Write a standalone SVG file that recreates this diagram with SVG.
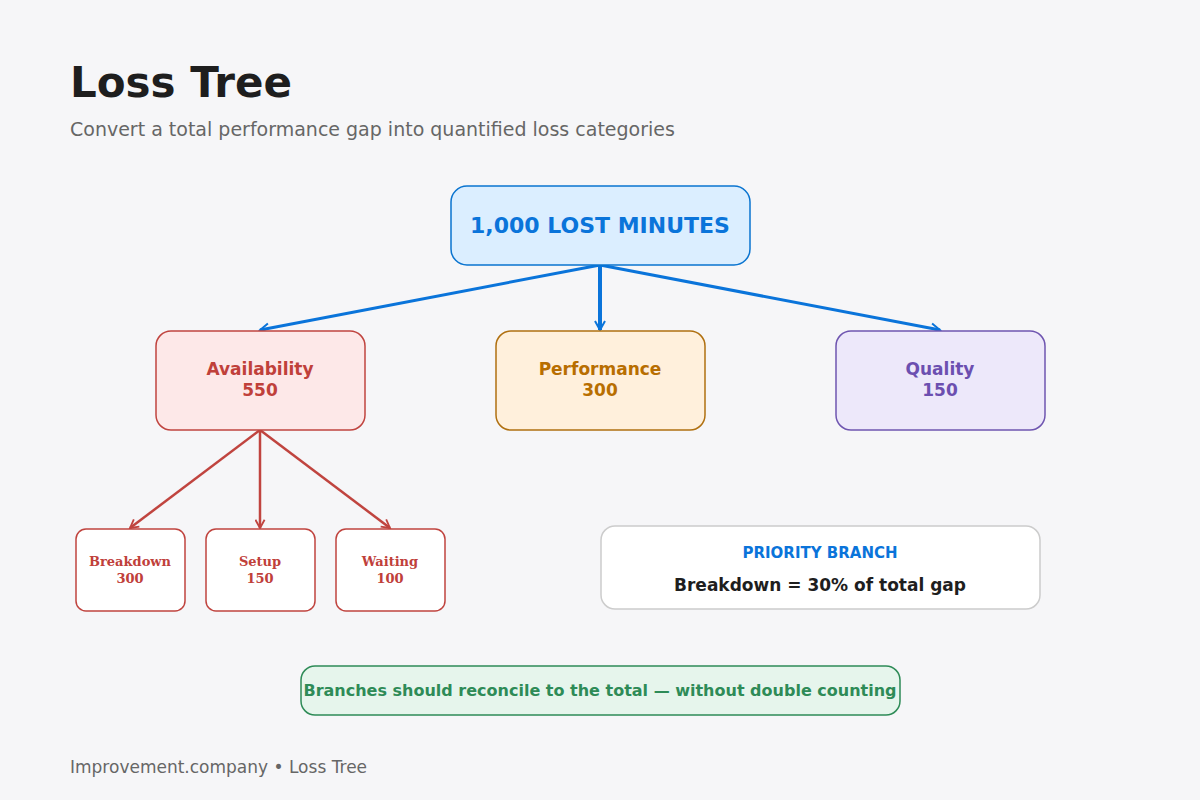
<svg xmlns="http://www.w3.org/2000/svg" width="1200" height="800" viewBox="0 0 1200 800">
<defs>
<style>
text{font-family:"DejaVu Sans",sans-serif}
.b{font-weight:bold;text-anchor:middle}
.s{font-family:"DejaVu Serif",serif;font-weight:bold;text-anchor:middle;font-size:13px;fill:#c0403a}
.sub{fill:#fff;stroke:#c0443f;stroke-width:1.5}
</style>
<marker id="ab" viewBox="0 0 12 12" refX="10" refY="6" markerWidth="12" markerHeight="12" markerUnits="userSpaceOnUse" orient="auto"><path d="M1,1 L10,6 L1,11" fill="none" stroke="#0a74da" stroke-width="2"/></marker>
<marker id="ar" viewBox="0 0 12 12" refX="10" refY="6" markerWidth="11" markerHeight="11" markerUnits="userSpaceOnUse" orient="auto"><path d="M1,1 L10,6 L1,11" fill="none" stroke="#c0443f" stroke-width="2"/></marker>
</defs>
<rect width="1200" height="800" fill="#f6f6f8"/>
<text x="70" y="97" font-size="42" font-weight="bold" fill="#1e1e1e">Loss Tree</text>
<text x="70" y="136" font-size="19" fill="#666">Convert a total performance gap into quantified loss categories</text>
<g id="connectors" fill="none">
<path d="M600,265 L260,330" stroke="#0a74da" stroke-width="3" marker-end="url(#ab)"/>
<path d="M600,265 L600,330" stroke="#0a74da" stroke-width="4" marker-end="url(#ab)"/>
<path d="M600,265 L940,330" stroke="#0a74da" stroke-width="3" marker-end="url(#ab)"/>
<path d="M260,430 L130,528" stroke="#c0443f" stroke-width="2.5" marker-end="url(#ar)"/>
<path d="M260,430 L260,528" stroke="#c0443f" stroke-width="2.5" marker-end="url(#ar)"/>
<path d="M260,430 L390,528" stroke="#c0443f" stroke-width="2.5" marker-end="url(#ar)"/>
</g>
<g id="root"><rect x="451" y="186" width="299" height="79" rx="16" fill="#dbeeff" stroke="#0a74d0" stroke-width="1.5"/>
<text class="b" x="600" y="233" font-size="22" fill="#0a74da">1,000 LOST MINUTES</text></g>
<g id="availability"><rect x="156" y="331" width="209" height="99" rx="15" fill="#fde8e8" stroke="#c0443f" stroke-width="1.5"/>
<text class="b" x="260" y="375" font-size="17" fill="#c0403a">Availability</text><text class="b" x="260" y="396" font-size="17" fill="#c0403a">550</text></g>
<g id="performance"><rect x="496" y="331" width="209" height="99" rx="15" fill="#fff0dc" stroke="#b07010" stroke-width="1.5"/>
<text class="b" x="600" y="375" font-size="17" fill="#b86e00">Performance</text><text class="b" x="600" y="396" font-size="17" fill="#b86e00">300</text></g>
<g id="quality"><rect x="836" y="331" width="209" height="99" rx="15" fill="#ede8fa" stroke="#6f55b0" stroke-width="1.5"/>
<text class="b" x="940" y="375" font-size="17" fill="#6c4fb0">Quality</text><text class="b" x="940" y="396" font-size="17" fill="#6c4fb0">150</text></g>
<g id="breakdown"><rect class="sub" x="76" y="529" width="109" height="82" rx="10"/><text class="s" x="130" y="566">Breakdown</text><text class="s" x="130" y="583">300</text></g>
<g id="setup"><rect class="sub" x="206" y="529" width="109" height="82" rx="10"/><text class="s" x="260" y="566">Setup</text><text class="s" x="260" y="583">150</text></g>
<g id="waiting"><rect class="sub" x="336" y="529" width="109" height="82" rx="10"/><text class="s" x="390" y="566">Waiting</text><text class="s" x="390" y="583">100</text></g>
<g id="priority"><rect x="601" y="526" width="439" height="83" rx="14" fill="#fff" stroke="#cccccc" stroke-width="1.5"/>
<text class="b" x="820" y="558" font-size="15" fill="#0a74da">PRIORITY BRANCH</text>
<text class="b" x="820" y="591" font-size="17" fill="#1e1e1e">Breakdown = 30% of total gap</text></g>
<g id="note"><rect x="301" y="666" width="599" height="49" rx="14" fill="#e6f5ec" stroke="#2e8b57" stroke-width="1.5"/>
<text class="b" x="600" y="696" font-size="16" fill="#2e8b57">Branches should reconcile to the total — without double counting</text></g>
<text x="70" y="773" font-size="17" fill="#666">Improvement.company • Loss Tree</text>
</svg>
